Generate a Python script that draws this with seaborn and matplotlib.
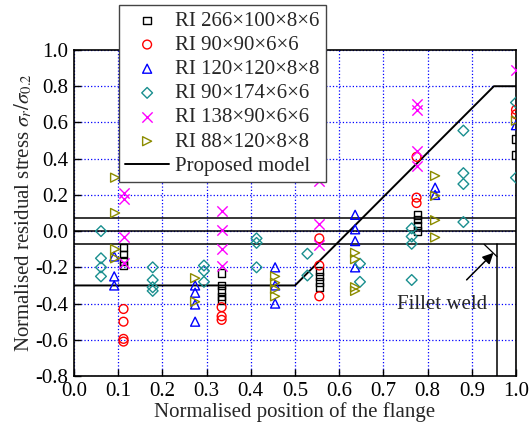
import matplotlib
matplotlib.use("Agg")
import matplotlib.pyplot as plt
import seaborn as sns
import numpy as np

# ---------------- data ----------------
labels = ["RI 266×100×8×6", "RI 90×90×6×6", "RI 120×120×8×8",
          "RI 90×174×6×6", "RI 138×90×6×6", "RI 88×120×8×8"]

s1_x = [0.112, 0.112, 0.112, 0.112, 0.334, 0.334, 0.334, 0.334, 0.334,
        0.555, 0.555, 0.555, 0.555, 0.777, 0.777, 0.777, 0.777, 1.0, 1.0]
s1_y = [-0.09, -0.13, -0.165, -0.19, -0.23, -0.30, -0.33, -0.36, -0.38,
        -0.22, -0.25, -0.28, -0.31, 0.09, 0.065, 0.03, 0.0, 0.51, 0.42]

s2_x = [0.112, 0.112, 0.112, 0.112, 0.334, 0.334, 0.334,
        0.555, 0.555, 0.555, 0.775, 0.775, 0.775, 1.0, 1.0]
s2_y = [-0.43, -0.50, -0.595, -0.61, -0.42, -0.47, -0.49,
        -0.04, -0.19, -0.36, 0.41, 0.185, 0.155, 0.67, 0.645]

s3_x = [0.091, 0.091, 0.091, 0.274, 0.274, 0.274, 0.274,
        0.455, 0.455, 0.455, 0.636, 0.636, 0.636, 0.636, 0.817, 0.817, 1.0]
s3_y = [-0.14, -0.25, -0.30, -0.30, -0.34, -0.405, -0.50,
        -0.20, -0.30, -0.40, 0.09, 0.01, -0.055, -0.20, 0.24, 0.20, 0.585]

s4_x = [0.061, 0.061, 0.061, 0.061, 0.178, 0.178, 0.178, 0.178,
        0.294, 0.294, 0.294, 0.413, 0.413, 0.413, 0.528, 0.528,
        0.647, 0.647, 0.764, 0.764, 0.764, 0.764,
        0.881, 0.881, 0.881, 0.881, 1.0, 1.0]
s4_y = [0.0, -0.15, -0.20, -0.25, -0.20, -0.27, -0.31, -0.33,
        -0.19, -0.22, -0.28, -0.04, -0.065, -0.20, -0.125, -0.245,
        -0.18, -0.28, 0.015, -0.03, -0.07, -0.27,
        0.555, 0.32, 0.26, 0.05, 0.71, 0.295]

s5_x = [0.112, 0.112, 0.112, 0.112, 0.334, 0.334, 0.334, 0.334,
        0.555, 0.555, 0.555, 0.775, 0.775, 0.775, 0.775, 1.0]
s5_y = [0.21, 0.175, -0.03, -0.175, 0.11, 0.005, -0.10, -0.19,
        0.275, 0.04, -0.075, 0.70, 0.67, 0.44, 0.36, 0.89]

s6_x = [0.093, 0.093, 0.093, 0.093, 0.274, 0.274,
        0.455, 0.455, 0.455, 0.455, 0.636, 0.636, 0.636, 0.636,
        0.817, 0.817, 0.817, 0.817, 1.0]
s6_y = [0.295, 0.10, -0.10, -0.15, -0.26, -0.39,
        -0.25, -0.285, -0.32, -0.36, -0.12, -0.155, -0.31, -0.33,
        0.305, 0.195, 0.06, -0.035, 0.61]

model_x = [0.0, 0.5, 0.95, 1.0]
model_y = [-0.3, -0.3, 0.8, 0.8]

ref_levels = [0.07, 0.0, -0.07]

x_ticks = [0.0, 0.1, 0.2, 0.3, 0.4, 0.5, 0.6, 0.7, 0.8, 0.9, 1.0]
y_ticks = [-0.8, -0.6, -0.4, -0.2, 0.0, 0.2, 0.4, 0.6, 0.8, 1.0]

# ---------------- style ----------------
sns.set_theme(style="ticks")
plt.rcParams["font.family"] = ["Liberation Serif", "DejaVu Serif"]
plt.rcParams["mathtext.fontset"] = "stix"
plt.rcParams["axes.unicode_minus"] = False

FS = 15

fig = plt.figure(figsize=(5.31, 4.37), dpi=100)
ax = fig.add_axes([74/531, 1-376/437, (516-74)/531, (376-50)/437])

series = [(s1_x, s1_y, "s", "black", 30),
          (s2_x, s2_y, "o", "red", 40),
          (s3_x, s3_y, "^", "blue", 42),
          (s4_x, s4_y, "D", "#1a8f8f", 30),
          (s5_x, s5_y, "x", "#ff00ff", 55),
          (s6_x, s6_y, ">", "#8c8c00", 42)]

for (xs, ys, m, c, sz), lab in zip(series, labels):
    if m == "x":
        sns.scatterplot(x=xs, y=ys, marker=m, s=sz, color=c, linewidth=1.0,
                        label=lab, ax=ax, zorder=4)
    else:
        sns.scatterplot(x=xs, y=ys, marker=m, s=sz, facecolor="none",
                        edgecolor=c, linewidth=1.0, label=lab, ax=ax, zorder=4)

sns.lineplot(x=model_x, y=model_y, color="black", lw=1.4, sort=False,
             label="Proposed model", ax=ax, zorder=3)

for lv in ref_levels:
    ax.axhline(lv, color="black", lw=1.1, zorder=3)

# fillet weld sketch
ax.plot([0.957, 0.957], [-0.07, -0.8], color="black", lw=1.1, zorder=3)
ax.plot([0.928, 0.957], [-0.073, -0.141], color="black", lw=0.9, zorder=3)
ax.annotate("Fillet weld", xy=(0.949, -0.12), xytext=(0.833, -0.405),
            ha="center", va="center", fontsize=FS,
            arrowprops=dict(arrowstyle="-|>", color="black", lw=1.1,
                            mutation_scale=16, shrinkA=12, shrinkB=0))

ax.set_xlim(0, 1.0)
ax.set_ylim(-0.8, 1.0)
ax.set_xticks(x_ticks)
ax.set_yticks(y_ticks)
ax.set_xticklabels([f"{v:.1f}" for v in x_ticks])
ax.set_yticklabels([f"{v:.1f}" for v in y_ticks])
ax.tick_params(direction="in", length=5, width=1, labelsize=FS, colors="black",
               pad=4)
ax.grid(True, color="blue", linestyle=":", linewidth=0.9)
for sp in ax.spines.values():
    sp.set_color("black")
    sp.set_linewidth(1.2)

ax.set_xlabel("Normalised position of the flange", fontsize=FS, labelpad=1)
ax.set_ylabel(r"Normalised residual stress $\sigma_r/\sigma_{0.2}$",
              fontsize=FS, labelpad=1)

handles, labs = ax.get_legend_handles_labels()
ax.get_legend().remove()
leg = fig.legend(handles, labs, loc="upper left",
                 bbox_to_anchor=(119/531, 1-5/437), fontsize=FS,
                 frameon=True, fancybox=False, framealpha=1,
                 edgecolor="#444444", labelspacing=0.22, borderpad=0.3,
                 handlelength=2.1, handletextpad=0.3, borderaxespad=0)
leg.get_frame().set_linewidth(1.0)
leg.set_zorder(10)

fig.savefig("out.png", dpi=100)
